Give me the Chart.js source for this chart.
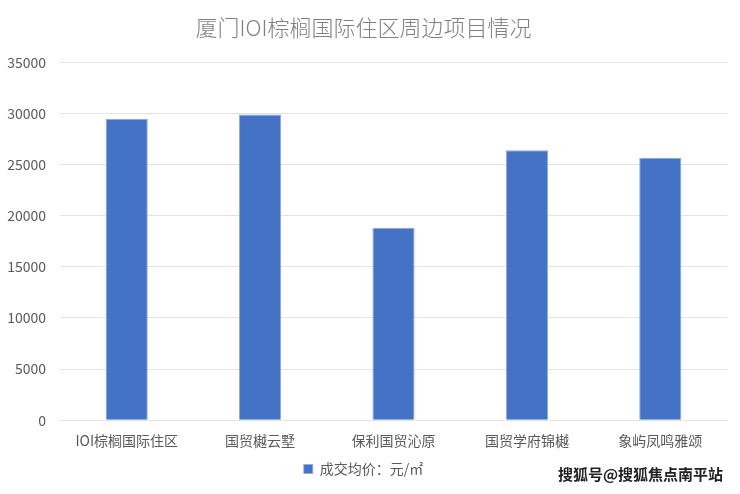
<!DOCTYPE html>
<html>
<head>
<meta charset="utf-8">
<script src="https://cdn.jsdelivr.net/npm/chart.js@4"></script>
<style>
  html,body{margin:0;padding:0;background:#fff;}
  #wrap{position:relative;width:740px;height:494px;}
  #mark{position:absolute;right:17px;bottom:10px;font-family:"Noto Sans CJK SC",sans-serif;font-weight:bold;font-size:15px;color:#222;
    text-shadow:0 0 2px #fff,0 0 2px #fff,0 0 2px #fff;}
</style>
</head>
<body>
<div id="wrap">
  <canvas id="c" width="740" height="494"></canvas>
  <div id="mark">搜狐号@搜狐焦点南平站</div>
</div>
<script>
// data
const projects = ['IOI棕榈国际住区','国贸樾云墅','保利国贸沁原','国贸学府锦樾','象屿凤鸣雅颂'];
const avgPrice = [29500, 29900, 18800, 26400, 25650];
const seriesName = '成交均价：元/㎡';
const chartTitle = '厦门IOI棕榈国际住区周边项目情况';

const FONT = '"Noto Sans CJK SC","Noto Sans",sans-serif';
const GREY = '#595959';

new Chart(document.getElementById('c'), {
  type:'bar',
  data:{
    labels:projects,
    datasets:[{label:seriesName,data:avgPrice,backgroundColor:'#4472c4',borderColor:'#8eaadb',borderWidth:{top:1,left:1,right:1,bottom:0},
      categoryPercentage:1,barPercentage:0.316}]
  },
  options:{
    responsive:false,
    animation:false,
    layout:{padding:{left:0,right:13,top:0,bottom:8}},
    plugins:{
      title:{display:true,text:chartTitle,color:'#808080',font:{family:FONT,size:22,weight:300},padding:{top:14,bottom:22}},
      legend:{position:'bottom',labels:{color:GREY,font:{family:FONT,size:14},boxWidth:9,boxHeight:9,padding:1}},
      tooltip:{enabled:false}
    },
    scales:{
      x:{grid:{display:false,drawTicks:false},border:{display:false},
         ticks:{color:GREY,font:{family:FONT,size:14},padding:12,maxRotation:0}},
      y:{min:0,max:35000,
         grid:{color:'#e3e3e3',drawTicks:false},border:{display:false},
         ticks:{stepSize:5000,color:GREY,font:{family:FONT,size:14},padding:14,callback:v=>String(v)},
         afterFit:s=>{s.width=60;}}
    }
  }
});
</script>
</body>
</html>
